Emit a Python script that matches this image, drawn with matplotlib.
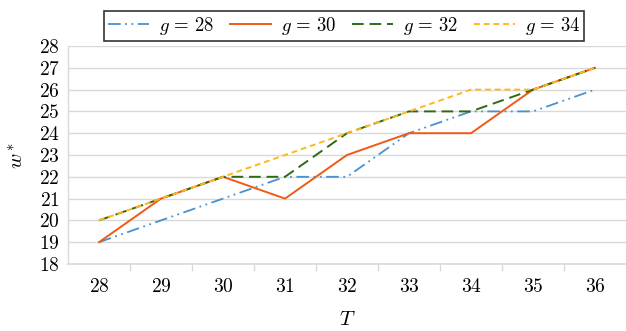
import matplotlib
matplotlib.use("Agg")
import matplotlib.pyplot as plt
from matplotlib.ticker import FixedLocator, NullFormatter

plt.rcParams['mathtext.fontset'] = 'cm'
plt.rcParams['font.family'] = ['DejaVu Serif']

T = [28, 29, 30, 31, 32, 33, 34, 35, 36]
g28 = [19, 20, 21, 22, 22, 24, 25, 25, 26]
g30 = [19, 21, 22, 21, 23, 24, 24, 26, 27]
g32 = [20, 21, 22, 22, 24, 25, 25, 26, 27]
g34 = [20, 21, 22, 23, 24, 25, 26, 26, 27]
labels = [r'$g\,=\,28$', r'$g\,=\,30$', r'$g\,=\,32$', r'$g\,=\,34$']
yticks = list(range(18, 29))

fig = plt.figure(figsize=(6.26, 3.31), dpi=100)
ax = fig.add_axes([68/626, 1 - 264/331, (626-68)/626, (264-46)/331])

x = list(range(len(T)))
ax.plot(x, g28, color='#4A90D0', lw=1.3, ls=(0, (7, 2.5, 1, 2.5, 1, 2.5)), label=labels[0])
ax.plot(x, g30, color='#F05A14', lw=1.4, ls='-', label=labels[1])
ax.plot(x, g32, color='#2E6A12', lw=1.4, ls=(0, (6, 3)), label=labels[2])
ax.plot(x, g34, color='#FFB81C', lw=1.4, ls=(0, (3, 2)), label=labels[3])

ax.set_xlim(-0.5, len(T) - 0.5)
ax.set_ylim(18, 28)
ax.set_yticks(yticks)
ax.set_yticklabels([f'${v}$' for v in yticks])
ax.set_xticks(x)
ax.set_xticklabels([f'${v}$' for v in T])
ax.tick_params(axis='x', length=0, labelsize=14, pad=10)
ax.tick_params(axis='y', length=0, labelsize=14, pad=6)
ax.xaxis.set_minor_locator(FixedLocator([i + 0.5 for i in range(len(T) - 1)]))
ax.xaxis.set_minor_formatter(NullFormatter())
ax.tick_params(axis='x', which='minor', length=5, width=1, color='#D9D9D9', direction='out')

ax.grid(axis='y', color='#D9D9D9', lw=1)
ax.set_axisbelow(True)
for s in ['top', 'right']:
    ax.spines[s].set_visible(False)
ax.spines['left'].set_color('#D9D9D9')
ax.spines['bottom'].set_color('#D9D9D9')
ax.spines['left'].set_linewidth(1)
ax.spines['bottom'].set_linewidth(1.2)

ax.set_xlabel(r'$T$', fontsize=15, labelpad=10)
ax.set_ylabel(r'$w^*$', fontsize=15, labelpad=8)

leg = ax.legend(loc='upper center', bbox_to_anchor=(0.495, 1.16), ncol=4, frameon=True,
                fancybox=False, edgecolor='black', fontsize=13.5, handlelength=2.2,
                handletextpad=0.5, columnspacing=0.85, borderpad=0.2, borderaxespad=0)
leg.get_frame().set_linewidth(1.2)

fig.savefig('out.png', dpi=100)
